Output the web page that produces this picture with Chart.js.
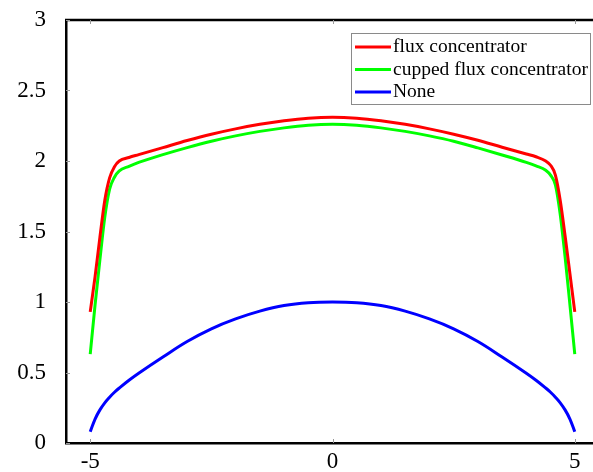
<!DOCTYPE html>
<html>
<head>
<meta charset="utf-8">
<script src="https://cdn.jsdelivr.net/npm/chart.js@4/dist/chart.umd.min.js"></script>
<style>
  html, body { margin: 0; padding: 0; background: #fff; overflow: hidden; }
  #wrap { width: 593px; height: 472px; overflow: hidden; }
</style>
</head>
<body>
<div id="wrap"><canvas id="fieldChart" width="599" height="472"></canvas></div>
<script>
// Position along the coil
const xValues = [-5, -4.9, -4.8, -4.7, -4.6, -4.5, -4.4, -4.2, -4, -3.5, -3, -2.5, -2, -1.5, -1, -0.5, 0,
                 0.5, 1, 1.5, 2, 2.5, 3, 3.5, 4, 4.2, 4.4, 4.5, 4.6, 4.7, 4.8, 4.9, 5];

const fluxConcentrator = [0.93, 1.18, 1.46, 1.72, 1.88, 1.96, 2.0, 2.025, 2.045, 2.095, 2.145, 2.19, 2.228, 2.26, 2.285, 2.303, 2.31,
                          2.303, 2.285, 2.26, 2.228, 2.19, 2.147, 2.098, 2.05, 2.03, 2.0, 1.97, 1.90, 1.72, 1.47, 1.20, 0.93];

const cuppedFlux = [0.63, 0.98, 1.30, 1.60, 1.80, 1.885, 1.93, 1.962, 1.99, 2.045, 2.095, 2.14, 2.178, 2.21, 2.235, 2.253, 2.26,
                    2.253, 2.235, 2.21, 2.178, 2.14, 2.093, 2.043, 1.99, 1.965, 1.935, 1.90, 1.83, 1.62, 1.32, 0.98, 0.63];

const noneValues = [0.08, 0.17, 0.235, 0.285, 0.325, 0.36, 0.39, 0.445, 0.495, 0.61, 0.72, 0.81, 0.88, 0.935, 0.975, 0.995, 1.0,
                    0.995, 0.975, 0.935, 0.88, 0.81, 0.72, 0.61, 0.495, 0.445, 0.39, 0.36, 0.325, 0.285, 0.235, 0.17, 0.08];

const xTicks = [-5, 0, 5];
const yTicks = [0, 0.5, 1, 1.5, 2, 2.5, 3];

const serif = "'Liberation Serif', 'Times New Roman', serif";

function toPoints(ys) {
    return ys.map((y, i) => ({ x: xValues[i], y: y }));
}

// Frame top edge, inward tick marks and the boxed legend
const framePlugin = {
    id: 'frame',
    afterDraw(chart) {
        const ctx = chart.ctx;
        const area = chart.chartArea;
        const xs = chart.scales.x;
        const ys = chart.scales.y;

        ctx.save();
        ctx.strokeStyle = '#000';
        ctx.lineWidth = 2.5;
        ctx.beginPath();
        ctx.moveTo(area.left - 1, area.top);
        ctx.lineTo(area.right, area.top);
        ctx.stroke();

        ctx.strokeStyle = '#999';
        ctx.lineWidth = 1;
        ctx.beginPath();
        yTicks.forEach(v => {
            const py = Math.round(ys.getPixelForValue(v)) + 0.5;
            ctx.moveTo(area.left, py);
            ctx.lineTo(area.left + 4, py);
        });
        xTicks.forEach(v => {
            const px = Math.round(xs.getPixelForValue(v)) + 0.5;
            ctx.moveTo(px, area.bottom);
            ctx.lineTo(px, area.bottom - 4);
            ctx.moveTo(px, area.top);
            ctx.lineTo(px, area.top + 4);
        });
        ctx.stroke();

        // legend box
        const bx = 351, by = 33, bw = 239, bh = 71;
        ctx.fillStyle = '#fff';
        ctx.fillRect(bx, by, bw, bh);
        ctx.strokeStyle = '#8a8a8a';
        ctx.lineWidth = 1;
        ctx.strokeRect(bx + 0.5, by + 0.5, bw, bh);

        ctx.font = '19.5px ' + serif;
        ctx.textBaseline = 'middle';
        chart.data.datasets.forEach((ds, i) => {
            const ry = 47 + i * 22.5;
            ctx.strokeStyle = ds.borderColor;
            ctx.lineWidth = 3;
            ctx.beginPath();
            ctx.moveTo(355, ry);
            ctx.lineTo(391, ry);
            ctx.stroke();
            ctx.fillStyle = '#000';
            ctx.fillText(ds.label, 393, ry);
        });
        ctx.restore();
    }
};

const ctx = document.getElementById('fieldChart').getContext('2d');
const fieldChart = new Chart(ctx, {
    type: 'line',
    data: {
        datasets: [
            {
                label: 'flux concentrator',
                data: toPoints(fluxConcentrator),
                borderColor: '#ff0000',
                borderWidth: 3,
                pointRadius: 0,
                cubicInterpolationMode: 'monotone',
                fill: false
            },
            {
                label: 'cupped flux concentrator',
                data: toPoints(cuppedFlux),
                borderColor: '#00ff00',
                borderWidth: 3,
                pointRadius: 0,
                cubicInterpolationMode: 'monotone',
                fill: false
            },
            {
                label: 'None',
                data: toPoints(noneValues),
                borderColor: '#0000ff',
                borderWidth: 3,
                pointRadius: 0,
                tension: 0.4,
                fill: false
            }
        ]
    },
    options: {
        responsive: false,
        animation: false,
        layout: { padding: { top: 20, right: 0, left: 0, bottom: 0 } },
        plugins: {
            legend: { display: false },
            tooltip: { enabled: false }
        },
        scales: {
            x: {
                type: 'linear',
                min: -5.5,
                max: 5.5,
                afterBuildTicks: function(scale) {
                    scale.ticks = xTicks.map(v => ({ value: v }));
                },
                afterFit: function(scale) { scale.height = 29; },
                grid: { display: false, drawTicks: false },
                border: { display: true, color: '#000', width: 2.5 },
                ticks: {
                    color: '#000',
                    padding: 5,
                    maxRotation: 0,
                    font: { family: serif, size: 23 },
                    callback: function(value) { return String(value); }
                }
            },
            y: {
                min: 0,
                max: 3,
                afterBuildTicks: function(scale) {
                    scale.ticks = yTicks.map(v => ({ value: v }));
                },
                afterFit: function(scale) {
                    scale.width = 66;
                    scale.paddingTop = 0;
                    scale.paddingBottom = 0;
                },
                grid: { display: false, drawTicks: false },
                border: { display: true, color: '#000', width: 2.5 },
                ticks: {
                    color: '#000',
                    padding: 20,
                    font: { family: serif, size: 23 },
                    callback: function(value) { return String(value); }
                }
            }
        }
    },
    plugins: [framePlugin]
});
</script>
</body>
</html>
